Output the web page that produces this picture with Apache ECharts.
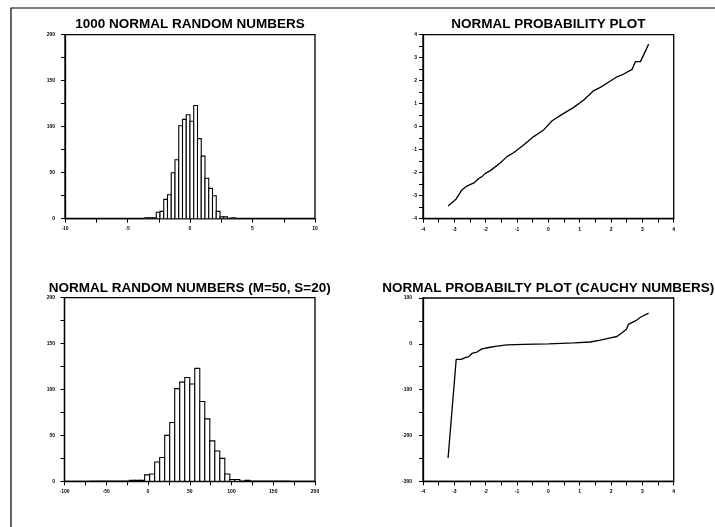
<!DOCTYPE html>
<html>
<head>
<meta charset="utf-8">
<script src="https://cdn.jsdelivr.net/npm/echarts@6/dist/echarts.min.js"></script>
<style>
html,body{margin:0;padding:0;background:#fff;}
#chart{width:715px;height:527px;}
</style>
</head>
<body>
<div id="chart"></div>
<script>
// ---- Data ----
const titles = [
  '1000 NORMAL RANDOM NUMBERS',
  'NORMAL PROBABILITY PLOT',
  'NORMAL RANDOM NUMBERS (M=50, S=20)',
  'NORMAL PROBABILTY PLOT (CAUCHY NUMBERS)'
];

// Histogram 1: 40 classes of width 0.3 starting at -6
const hist1Lower = -6;
const hist1Width = 0.3;
const hist1Counts = [0,0,0,0,0,0,0,0,1,1,1,7,8,21,26,50,64,101,108,113,106,123,87,68,44,33,25,8,2,2,0,1,0,0,0,0,0,0,0,0];

// Histogram 2: same sample scaled (M=50, S=20), classes of width 6 starting at -70
const hist2Lower = -70;
const hist2Width = 6;
const hist2Counts = [0,0,0,0,0,0,0,0,1,1,1,7,8,21,26,50,64,101,108,113,106,123,87,68,44,33,25,8,2,2,0,1,0,0,0,0,0,0,0,0];

// Normal probability plot (theoretical, ordered response)
const nppX = [-3.2,-2.94,-2.76,-2.6,-2.36,-2.22,-2.12,-2.01,-1.85,-1.53,-1.32,-1.11,-0.79,-0.47,-0.15,0.12,0.49,0.81,1.13,1.45,1.66,1.98,2.19,2.25,2.35,2.67,2.78,2.94,3.2];
const nppY = [-3.45,-3.14,-2.75,-2.58,-2.43,-2.25,-2.17,-2.03,-1.91,-1.57,-1.3,-1.13,-0.8,-0.43,-0.14,0.26,0.58,0.84,1.16,1.57,1.71,1.99,2.17,2.2,2.25,2.49,2.83,2.83,3.59];

// Cauchy normal probability plot
const cauchyX = [-3.2,-2.94,-2.78,-2.65,-2.54,-2.44,-2.28,-2.12,-1.9,-1.64,-1.32,-0.79,0,0.81,1.34,1.66,1.98,2.19,2.35,2.49,2.56,2.78,2.94,3.2];
const cauchyY = [-249,-34,-34,-30,-28,-21,-18,-11,-8,-5,-2.5,-1,0,2,4,8,13,16,24,32,43,50,58,67];

// Axis tick settings
const hist1XTicks = {min:-10, max:10, interval:5};
const hist2XTicks = {min:-100, max:200, interval:50};
const histYTicks = {min:0, max:200, interval:50};
const nppTicks = {min:-4, max:4, interval:1};
const cauchyYTicks = {min:-300, max:100, interval:100};

// ---- Build ----
function histData(lower, width, counts){
  return counts.map((c,i)=>[lower+i*width, lower+(i+1)*width, c]);
}
function pairs(xs, ys){ return xs.map((x,i)=>[x, ys[i]]); }

const FONT = '"Liberation Sans", Arial, sans-serif';
function axis(gridIndex, ticks, pos, margin){
  return Object.assign({
    type:'value', gridIndex:gridIndex, position:pos,
    axisLine:{show:true, onZero:false, lineStyle:{color:'#000', width:1.3}},
    axisTick:{show:true, inside:false, length:4, lineStyle:{color:'#000', width:1}},
    minorTick:{show:true, splitNumber:2, length:4, lineStyle:{color:'#000', width:1}},
    splitLine:{show:false},
    axisLabel:{show:true, color:'#000', fontSize:5, fontWeight:'bold', fontFamily:FONT, margin:margin, showMinLabel:true, showMaxLabel:true}
  }, ticks);
}

function histRender(params, api){
  const x0 = api.value(0), x1 = api.value(1), c = api.value(2);
  const p0 = api.coord([x0, c]);
  const p1 = api.coord([x1, 0]);
  return {
    type:'rect',
    shape:{x:p0[0], y:p0[1], width:p1[0]-p0[0], height:p1[1]-p0[1]},
    style:{fill:'#fff', stroke:'#000', lineWidth:1.1}
  };
}

const grids = [
  {left:65, top:34.7, width:250, height:184},
  {left:423, top:34.7, width:250.7, height:184},
  {left:64.5, top:297.7, width:250.5, height:183.6},
  {left:423, top:298, width:250.7, height:183.3}
].map(g=>Object.assign(g, {show:true, borderColor:'#000', borderWidth:1.3, backgroundColor:'transparent', containLabel:false}));

const titleY = [24, 24, 288.3, 288.3];
const titleGraphics = titles.map((t,i)=>({
  type:'text',
  x: grids[i].left + grids[i].width/2,
  y: titleY[i],
  style:{text:t, fill:'#000', font:'bold 13.5px ' + FONT, textAlign:'center', textVerticalAlign:'middle'},
  z:10
}));

const option = {
  backgroundColor:'#fff',
  animation:false,
  grid: grids,
  xAxis: [
    axis(0, hist1XTicks, 'bottom', 7),
    axis(1, nppTicks, 'bottom', 8),
    axis(2, hist2XTicks, 'bottom', 8),
    axis(3, nppTicks, 'bottom', 8)
  ],
  yAxis: [
    axis(0, histYTicks, 'left', 10),
    axis(1, nppTicks, 'left', 6),
    axis(2, histYTicks, 'left', 9.5),
    axis(3, cauchyYTicks, 'left', 11)
  ],
  graphic: [
    {type:'rect', shape:{x:11, y:8, width:800, height:600}, style:{fill:'none', stroke:'#000', lineWidth:1.2}, z:-1}
  ].concat(titleGraphics),
  series: [
    {type:'custom', xAxisIndex:0, yAxisIndex:0, renderItem:histRender, encode:{x:[0,1], y:2},
      data: histData(hist1Lower, hist1Width, hist1Counts), clip:true},
    {type:'line', xAxisIndex:1, yAxisIndex:1, data: pairs(nppX, nppY), showSymbol:false, symbol:'none',
      lineStyle:{color:'#000', width:1.3}},
    {type:'custom', xAxisIndex:2, yAxisIndex:2, renderItem:histRender, encode:{x:[0,1], y:2},
      data: histData(hist2Lower, hist2Width, hist2Counts), clip:true},
    {type:'line', xAxisIndex:3, yAxisIndex:3, data: pairs(cauchyX, cauchyY), showSymbol:false, symbol:'none',
      lineStyle:{color:'#000', width:1.3}}
  ]
};

const chart = echarts.init(document.getElementById('chart'), null, {renderer:'canvas'});
chart.setOption(option);
</script>
</body>
</html>
